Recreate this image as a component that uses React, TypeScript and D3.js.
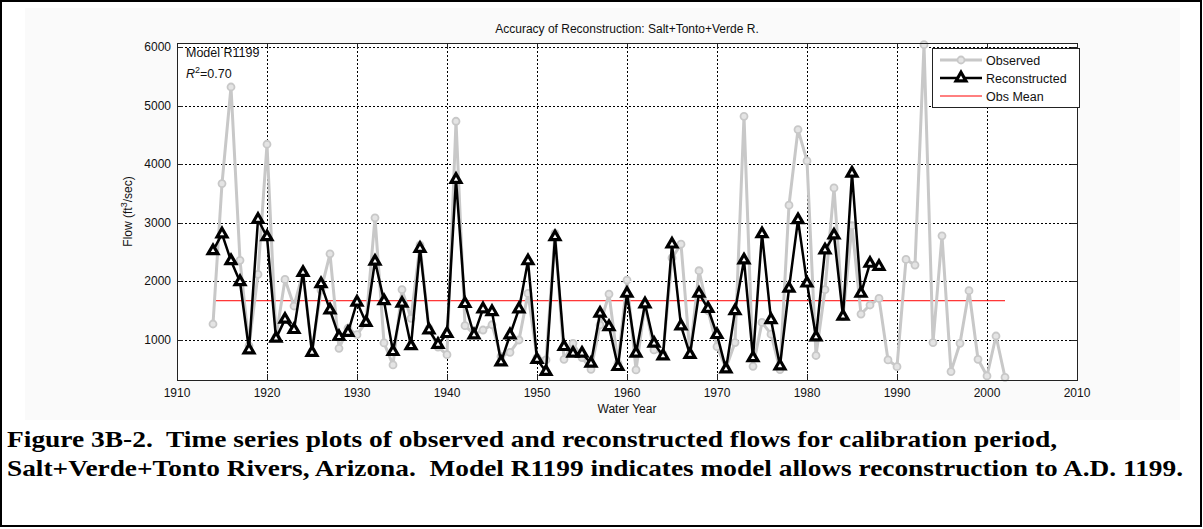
import React, { useEffect, useRef } from 'react';
import * as d3 from 'd3';

// Observed flows, water years 1914-2002
const obsStart = 1914;
const observed = [
  1273, 3670, 5318, 2360, 900, 2120, 4341, 1050, 2034, 1580,
  2150, 800, 1850, 2470, 858, 1200, 1090, 1300, 3085, 950,
  574, 1860, 1370, 2619, 1200, 880, 750, 4733, 1245, 1100,
  1170, 1260, 720, 790, 1000, 1795, 700, 659, 2818, 670,
  943, 700, 500, 1256, 1784, 600, 2023, 489, 1600, 830,
  760, 2400, 2636, 750, 2182, 1500, 886, 520, 955, 4818,
  550, 1300, 1100, 495, 3301, 4591, 4057, 735, 1858, 3595,
  1400, 2950, 1443, 1597, 1710, 659, 545, 2375, 2278, 6040,
  955, 2778, 460, 943, 1841, 670, 386, 1068, 363,
];

// Reconstructed flows, water years 1914-1988
const reconStart = 1914;
const reconstructed = [
  2522, 2810, 2352, 1994, 830, 3057, 2761, 1028, 1352, 1176,
  2150, 787, 1958, 1511, 1057, 1128, 1645, 1298, 2343, 1668,
  801, 1625, 900, 2562, 1170, 924, 1108, 3739, 1620, 1085,
  1530, 1483, 622, 1085, 1530, 2350, 665, 460, 2761, 886,
  773, 773, 602, 1455, 1227, 545, 1795, 773, 1614, 943,
  727, 2636, 1239, 752, 1795, 1537, 1091, 503, 1497, 2364,
  696, 2812, 1346, 557, 1881, 3051, 1970, 1050, 2534, 2790,
  1404, 3846, 1795, 2307, 2255,
];

const obsMean = 1670;
const xTicks = [1910, 1920, 1930, 1940, 1950, 1960, 1970, 1980, 1990, 2000, 2010];
const yTicks = [1000, 2000, 3000, 4000, 5000, 6000];
const legendLabels = ['Observed', 'Reconstructed', 'Obs Mean'];
const captionLines = [
  'Figure 3B-2.  Time series plots of observed and reconstructed flows for calibration period,',
  'Salt+Verde+Tonto Rivers, Arizona.  Model R1199 indicates model allows reconstruction to A.D. 1199.',
];

function App() {
  const ref = useRef(null);

  useEffect(() => {
    const svg = d3.select(ref.current);
    svg.selectAll('*').remove();
    const W = 1203;
    const H = 529;
    svg.attr('width', W).attr('height', H);

    const font = '"Liberation Sans", Arial, sans-serif';
    const left = 177; const right = 1077; const top = 43; const bottom = 380;

    // page frame + figure background
    svg.append('rect').attr('x', 0).attr('y', 0).attr('width', W).attr('height', H).attr('fill', '#fff');
    svg.append('rect').attr('x', 25).attr('y', 8).attr('width', 1155).attr('height', 412).attr('fill', '#fafafa');
    svg.append('rect').attr('x', 1).attr('y', 1).attr('width', W - 3).attr('height', 525)
      .attr('fill', 'none').attr('stroke', '#000').attr('stroke-width', 2);

    const x = d3.scaleLinear().domain([1910, 2010]).range([left, right]);
    const y = d3.scaleLinear().domain([317, 6069]).range([bottom, top]);

    svg.append('rect').attr('x', left).attr('y', top).attr('width', right - left).attr('height', bottom - top)
      .attr('fill', '#fff');

    // grid
    const grid = svg.append('g').attr('stroke', '#000').attr('stroke-width', 1).attr('stroke-dasharray', '2,2');
    xTicks.filter((t) => t > 1910 && t < 2010).forEach((t) => {
      grid.append('line').attr('x1', Math.round(x(t)) + 0.5).attr('x2', Math.round(x(t)) + 0.5)
        .attr('y1', top).attr('y2', bottom);
    });
    yTicks.forEach((t) => {
      grid.append('line').attr('y1', Math.round(y(t)) + 0.5).attr('y2', Math.round(y(t)) + 0.5)
        .attr('x1', left).attr('x2', right);
    });

    // ticks (inward, all four sides)
    const tk = svg.append('g').attr('stroke', '#222').attr('stroke-width', 1);
    xTicks.forEach((t) => {
      const px = Math.round(x(t)) + 0.5;
      tk.append('line').attr('x1', px).attr('x2', px).attr('y1', bottom).attr('y2', bottom - 6);
      tk.append('line').attr('x1', px).attr('x2', px).attr('y1', top).attr('y2', top + 6);
    });
    yTicks.forEach((t) => {
      const py = Math.round(y(t)) + 0.5;
      tk.append('line').attr('x1', left).attr('x2', left + 6).attr('y1', py).attr('y2', py);
      tk.append('line').attr('x1', right).attr('x2', right - 6).attr('y1', py).attr('y2', py);
    });

    // tick labels
    svg.append('g').selectAll('text').data(xTicks).enter().append('text')
      .attr('x', (d) => x(d)).attr('y', bottom + 17)
      .attr('text-anchor', 'middle').attr('font-family', font).attr('font-size', 12).attr('fill', '#111')
      .text((d) => d);
    svg.append('g').selectAll('text').data(yTicks).enter().append('text')
      .attr('x', left - 6).attr('y', (d) => y(d) + 4)
      .attr('text-anchor', 'end').attr('font-family', font).attr('font-size', 12).attr('fill', '#111')
      .text((d) => d);

    // observed mean
    svg.append('line')
      .attr('x1', x(obsStart)).attr('x2', x(obsStart + observed.length - 1))
      .attr('y1', y(obsMean)).attr('y2', y(obsMean))
      .attr('stroke', '#ff0000').attr('stroke-width', 1);

    const obsData = observed.map((v, i) => [obsStart + i, v]);
    const recData = reconstructed.map((v, i) => [reconStart + i, v]);
    const line = d3.line().x((d) => x(d[0])).y((d) => y(d[1]));

    // observed series
    svg.append('path').datum(obsData).attr('d', line)
      .attr('fill', 'none').attr('stroke', '#c8c8c8').attr('stroke-width', 3).attr('stroke-linejoin', 'round');
    svg.append('g').selectAll('circle').data(obsData).enter().append('circle')
      .attr('cx', (d) => x(d[0])).attr('cy', (d) => y(d[1])).attr('r', 3.5)
      .attr('fill', '#e4e4e4').attr('stroke', '#c8c8c8').attr('stroke-width', 1.8);

    // reconstructed series
    svg.append('path').datum(recData).attr('d', line)
      .attr('fill', 'none').attr('stroke', '#000').attr('stroke-width', 2.5).attr('stroke-linejoin', 'round');
    const tri = d3.symbol().type(d3.symbolTriangle).size(42);
    svg.append('g').selectAll('path').data(recData).enter().append('path')
      .attr('d', tri)
      .attr('transform', (d) => `translate(${x(d[0])},${y(d[1])})`)
      .attr('fill', '#fff').attr('stroke', '#000').attr('stroke-width', 3.2).attr('stroke-linejoin', 'miter');

    // axes box
    svg.append('rect').attr('x', left + 0.5).attr('y', top + 0.5).attr('width', right - left).attr('height', bottom - top)
      .attr('fill', 'none').attr('stroke', '#222').attr('stroke-width', 1);

    // title and axis labels
    svg.append('text').attr('x', (left + right) / 2).attr('y', 33).attr('text-anchor', 'middle')
      .attr('font-family', font).attr('font-size', 12).attr('fill', '#111')
      .text('Accuracy of Reconstruction: Salt+Tonto+Verde R.');
    svg.append('text').attr('x', (left + right) / 2).attr('y', 413).attr('text-anchor', 'middle')
      .attr('font-family', font).attr('font-size', 12).attr('fill', '#111')
      .text('Water Year');
    const yl = svg.append('text').attr('transform', `translate(132,${(top + bottom) / 2}) rotate(-90)`)
      .attr('text-anchor', 'middle').attr('font-family', font).attr('font-size', 12).attr('fill', '#111');
    yl.append('tspan').text('Flow (ft');
    yl.append('tspan').attr('font-size', 9).attr('dy', -5).text('3');
    yl.append('tspan').attr('dy', 5).text('/sec)');

    // model annotation
    svg.append('text').attr('x', 186).attr('y', 57).attr('font-family', font).attr('font-size', 12.5)
      .attr('fill', '#111').text('Model R1199');
    const r2 = svg.append('text').attr('x', 186).attr('y', 78).attr('font-family', font).attr('font-size', 12.5)
      .attr('fill', '#111');
    r2.append('tspan').attr('font-style', 'italic').text('R');
    r2.append('tspan').attr('font-size', 9).attr('dy', -5).text('2');
    r2.append('tspan').attr('dy', 5).text('=0.70');

    // legend
    const lg = svg.append('g').attr('transform', 'translate(932,48)');
    lg.append('rect').attr('x', 0.5).attr('y', 0.5).attr('width', 147).attr('height', 59)
      .attr('fill', '#fff').attr('stroke', '#222').attr('stroke-width', 1);
    const rows = [12, 30, 48];
    lg.append('line').attr('x1', 8).attr('x2', 50).attr('y1', rows[0]).attr('y2', rows[0])
      .attr('stroke', '#c8c8c8').attr('stroke-width', 3);
    lg.append('circle').attr('cx', 29).attr('cy', rows[0]).attr('r', 3.5)
      .attr('fill', '#e4e4e4').attr('stroke', '#c8c8c8').attr('stroke-width', 1.8);
    lg.append('line').attr('x1', 8).attr('x2', 50).attr('y1', rows[1]).attr('y2', rows[1])
      .attr('stroke', '#000').attr('stroke-width', 2.5);
    lg.append('path').attr('d', tri).attr('transform', `translate(29,${rows[1]})`)
      .attr('fill', '#fff').attr('stroke', '#000').attr('stroke-width', 3.2);
    lg.append('line').attr('x1', 8).attr('x2', 50).attr('y1', rows[2]).attr('y2', rows[2])
      .attr('stroke', '#ff0000').attr('stroke-width', 1);
    lg.selectAll('text.lab').data(legendLabels).enter().append('text')
      .attr('x', 54).attr('y', (d, i) => rows[i] + 4.5)
      .attr('font-family', font).attr('font-size', 12.5).attr('fill', '#111')
      .text((d) => d);

    // caption
    const capWidths = [1050, 1176];
    svg.selectAll('text.cap').data(captionLines).enter().append('text')
      .attr('x', 7).attr('y', (d, i) => 447 + i * 29)
      .style('font-family', "'Liberation Serif', 'Times New Roman', Times, serif")
      .style('white-space', 'pre')
      .attr('font-weight', 'bold').attr('font-size', 24).attr('fill', '#000')
      .attr('textLength', (d, i) => capWidths[i]).attr('lengthAdjust', 'spacingAndGlyphs')
      .text((d) => d);
  }, []);

  return <svg ref={ref} style={{ position: 'absolute', left: 0, top: 0 }} />;
}

export default App;
